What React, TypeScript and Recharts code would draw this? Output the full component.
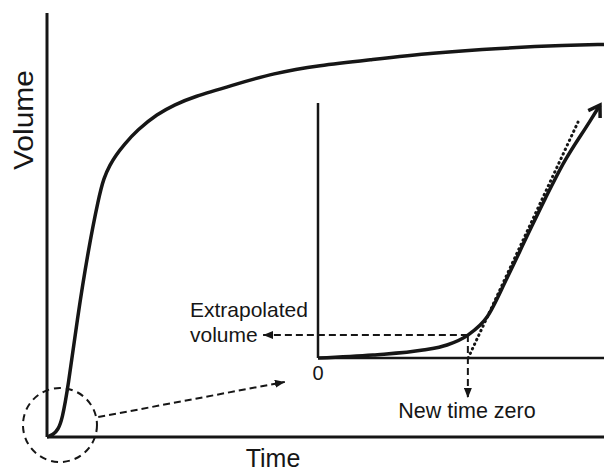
import { LineChart, Line, XAxis, YAxis, ReferenceLine, ReferenceDot } from 'recharts';

// main curve (time 0-100, volume 0-100)
const mainTime = [0, 1.1, 2, 2.7, 3.8, 5.4, 7.4, 9.3, 10.2, 11.3, 12.4, 13.8, 16.2, 19.8, 23, 26.2, 33.4, 40.6, 49, 57.5, 69.3, 81.3, 93.4, 100];
const mainVolume = [0, 0.5, 1.8, 4, 11.8, 27.6, 44.1, 56.6, 61.1, 64.2, 66.5, 68.9, 72.4, 76.2, 78.4, 80.2, 83, 85.8, 87.7, 88.9, 90.6, 91.7, 92.4, 92.6];

// inset: zoom on the start of the curve
const insetTime = [0, 19.2, 36.7, 45.1, 52.4, 59.1, 66.1, 73.1, 79.4, 85.7, 95.1, 98.6];
const insetVolume = [0, 1.2, 3.1, 5.1, 9, 16.1, 31.4, 47.8, 62.4, 76.1, 92.9, 99.2];
const insetTicks = ['0'];

// tangent at the inflection point
const tangentTime = [52.5, 90.9];
const tangentVolume = [0, 92.5];

// new time zero / extrapolated volume
const zeroTime = 52.4;
const zeroVolume = 9;
const extrapolatedTo = -19.2;
const zeroArrowTo = -15.7;

// dashed circle around the origin and the zoom arrow
const circleAt = { t: 2.33, v: 2.83 };
const zoomArrow = [{ x: 9.2, y: 4.7 }, { x: 42.7, y: 13 }];

const mainCurve = mainTime.map((t, i) => ({ t, v: mainVolume[i] }));
const insetCurve = insetTime.map((t, i) => ({ t, v: insetVolume[i] }));
const tangent = tangentTime.map((t, i) => ({ t, v: tangentVolume[i] }));

const INK = '#161616';
const FONT = '"Liberation Sans", Arial, sans-serif';

const dashedArrow = (marker: string) => (p: any) => (
  <line
    x1={p.x1}
    y1={p.y1}
    x2={p.x2}
    y2={p.y2}
    stroke={INK}
    strokeWidth={2}
    strokeDasharray="7 4"
    markerEnd={`url(#${marker})`}
  />
);

export default function App() {
  return (
    <div style={{ position: 'absolute', left: 0, top: 0, width: 604, height: 472, background: '#fff' }}>
      {/* Main chart */}
      <div style={{ position: 'absolute', left: 0, top: 0 }}>
        <LineChart width={604} height={472} margin={{ top: 13, right: 0, bottom: 35, left: 47 }}>
          <defs>
            <marker id="triMain" markerWidth="10" markerHeight="8" refX="10" refY="4" orient="auto" markerUnits="userSpaceOnUse">
              <path d="M0,0 L10,4 L0,8 Z" fill={INK} />
            </marker>
          </defs>
          <XAxis type="number" dataKey="t" domain={[0, 100]} hide />
          <YAxis type="number" domain={[0, 100]} hide />
          {/* axis lines */}
          <ReferenceLine x={0} stroke={INK} strokeWidth={3} ifOverflow="visible" />
          <ReferenceLine y={0} stroke={INK} strokeWidth={3} ifOverflow="visible" />
          <Line data={mainCurve} dataKey="v" type="basis" stroke={INK} strokeWidth={3.5} dot={false} activeDot={false} isAnimationActive={false} />
          <ReferenceDot x={circleAt.t} y={circleAt.v} r={37} fill="none" stroke={INK} strokeWidth={2} strokeDasharray="7 5" ifOverflow="visible" />
          <ReferenceLine segment={zoomArrow} ifOverflow="visible" shape={dashedArrow('triMain')} />
          <text x={273} y={467} textAnchor="middle" fontFamily={FONT} fontSize={25} fill={INK}>Time</text>
          <text x={33} y={120} textAnchor="middle" fontFamily={FONT} fontSize={28} textLength={100} lengthAdjust="spacingAndGlyphs" fill={INK} transform="rotate(-90 33 120)">Volume</text>
          <text x={190} y={317} fontFamily={FONT} fontSize={21} fill={INK}>Extrapolated</text>
          <text x={190} y={342} fontFamily={FONT} fontSize={21} fill={INK}>volume</text>
          <text x={467} y={418} textAnchor="middle" fontFamily={FONT} fontSize={21.5} fill={INK}>New time zero</text>
        </LineChart>
      </div>

      {/* Inset chart */}
      <div style={{ position: 'absolute', left: 0, top: 0 }}>
        <LineChart width={604} height={472} margin={{ top: 103, right: 0, bottom: 114, left: 318 }}>
          <defs>
            <marker id="triInset" markerWidth="10" markerHeight="8" refX="10" refY="4" orient="auto" markerUnits="userSpaceOnUse">
              <path d="M0,0 L10,4 L0,8 Z" fill={INK} />
            </marker>
            <marker id="chevron" markerWidth="18" markerHeight="18" refX="14" refY="9" orient="auto" markerUnits="userSpaceOnUse" overflow="visible">
              <path d="M3,2 L14,9 L3,16" fill="none" stroke={INK} strokeWidth={3.5} />
            </marker>
          </defs>
          <XAxis type="number" dataKey="t" domain={[0, 100]} hide />
          <YAxis type="number" domain={[0, 100]} hide />
          <ReferenceLine
            x={0}
            stroke={INK}
            strokeWidth={2.5}
            ifOverflow="visible"
            label={{ value: insetTicks[0], position: 'bottom', offset: 8, fontSize: 20, fill: INK, fontFamily: FONT }}
          />
          <ReferenceLine y={0} stroke={INK} strokeWidth={2.5} ifOverflow="visible" />
          <Line data={tangent} dataKey="v" type="linear" stroke={INK} strokeWidth={3} strokeDasharray="0.5 4.5" strokeLinecap="round" dot={false} activeDot={false} isAnimationActive={false} />
          <Line data={insetCurve} dataKey="v" type="monotone" stroke={INK} strokeWidth={3.5} dot={false} activeDot={false} markerEnd="url(#chevron)" isAnimationActive={false} />
          <ReferenceLine
            segment={[{ x: zeroTime, y: zeroVolume }, { x: extrapolatedTo, y: zeroVolume }]}
            ifOverflow="visible"
            shape={dashedArrow('triInset')}
          />
          <ReferenceLine
            segment={[{ x: zeroTime, y: zeroVolume }, { x: zeroTime, y: zeroArrowTo }]}
            ifOverflow="visible"
            shape={dashedArrow('triInset')}
          />
        </LineChart>
      </div>
    </div>
  );
}
